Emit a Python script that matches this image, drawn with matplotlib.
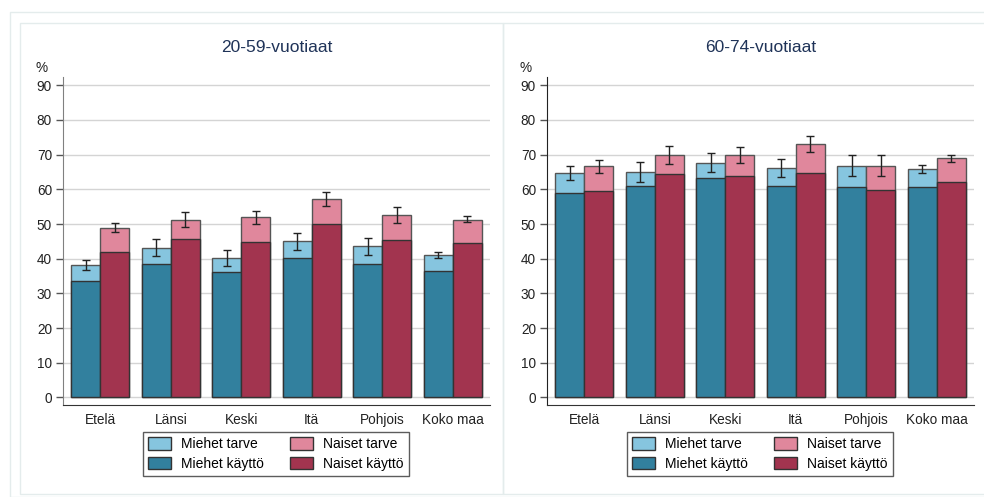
import numpy as np
import matplotlib
matplotlib.use('Agg')
import matplotlib.pyplot as plt
from matplotlib.patches import Rectangle, Patch

plt.rcParams['font.family'] = ['Liberation Sans', 'DejaVu Sans']

regions = ['Etelä', 'Länsi', 'Keski', 'Itä', 'Pohjois', 'Koko maa']
yticks = [0, 10, 20, 30, 40, 50, 60, 70, 80, 90]

# 20-59-vuotiaat
m_tarve_a = [38.2, 43.2, 40.2, 45.0, 43.6, 41.1]
m_kaytto_a = [33.5, 38.6, 36.1, 40.1, 38.6, 36.4]
m_lo_a = [36.6, 40.8, 37.9, 42.5, 41.0, 40.3]
m_hi_a = [39.6, 45.7, 42.5, 47.5, 46.0, 42.0]
n_tarve_a = [48.9, 51.3, 51.9, 57.2, 52.5, 51.3]
n_kaytto_a = [41.8, 45.6, 44.7, 50.0, 45.5, 44.6]
n_lo_a = [47.6, 49.2, 49.9, 55.3, 50.3, 50.7]
n_hi_a = [50.4, 53.5, 53.8, 59.3, 54.8, 52.3]

# 60-74-vuotiaat
m_tarve_b = [64.7, 65.1, 67.7, 66.2, 66.8, 65.9]
m_kaytto_b = [59.0, 61.0, 63.4, 61.1, 60.6, 60.6]
m_lo_b = [62.7, 62.2, 64.9, 63.5, 63.9, 64.7]
m_hi_b = [66.8, 67.9, 70.6, 68.8, 70.0, 67.1]
n_tarve_b = [66.6, 69.8, 69.8, 73.1, 66.8, 68.9]
n_kaytto_b = [59.4, 64.5, 63.9, 64.7, 59.9, 62.0]
n_lo_b = [64.8, 67.3, 67.5, 70.7, 63.8, 67.9]
n_hi_b = [68.4, 72.5, 72.3, 75.5, 69.8, 70.0]

c_mt = '#86c5df'
c_mk = '#32809e'
c_nt = '#e0879c'
c_nk = '#a2344f'

W, H = 984, 497
fig = plt.figure(figsize=(W / 100, H / 100), dpi=100)

# light frames around the panels
border = '#e4ecec'
fig.patches.append(Rectangle((10 / W, 0), 1, 1 - 12 / H, transform=fig.transFigure,
                             fill=False, edgecolor=border, lw=1))
fig.patches.append(Rectangle((20 / W, 1 - 494 / H), 483 / W, 471 / H, transform=fig.transFigure,
                             fill=False, edgecolor=border, lw=1))
fig.patches.append(Rectangle((503 / W, 1 - 494 / H), 1, 471 / H, transform=fig.transFigure,
                             fill=False, edgecolor=border, lw=1))


def panel(left_px, title, mt, mk, mlo, mhi, nt, nk, nlo, nhi, spine_col):
    ax = fig.add_axes([left_px / W, 1 - 405 / H, 427 / W, 328 / H])
    x = np.arange(len(regions))
    bw = 0.41
    xm = x - bw / 2
    xn = x + bw / 2
    ax.bar(xm, mt, bw, color=c_mt, edgecolor='#555555', lw=1, zorder=2)
    ax.bar(xm, mk, bw, color=c_mk, edgecolor='#333333', lw=1, zorder=3)
    ax.bar(xn, nt, bw, color=c_nt, edgecolor='#555555', lw=1, zorder=2)
    ax.bar(xn, nk, bw, color=c_nk, edgecolor='#333333', lw=1, zorder=3)
    mt, mlo, mhi = np.array(mt), np.array(mlo), np.array(mhi)
    nt, nlo, nhi = np.array(nt), np.array(nlo), np.array(nhi)
    ax.errorbar(xm, mt, yerr=[mt - mlo, mhi - mt], fmt='none', ecolor='#222222',
                elinewidth=1, capsize=3, capthick=1, zorder=4)
    ax.errorbar(xn, nt, yerr=[nt - nlo, nhi - nt], fmt='none', ecolor='#222222',
                elinewidth=1, capsize=3, capthick=1, zorder=4)

    ax.set_xlim(-0.53, 5.53)
    ax.set_ylim(-2.2, 92.4)
    ax.set_yticks(yticks)
    ax.set_xticks(x)
    ax.set_xticklabels(regions, fontsize=9.8, color='#222222')
    ax.tick_params(axis='x', length=0, pad=6)
    ax.tick_params(axis='y', length=5, width=1, color='#555555', labelsize=9.8,
                   labelcolor='#222222', pad=3)
    ax.grid(axis='y', color='#d4d4d4', lw=1, zorder=0)
    ax.set_axisbelow(True)
    for s in ['top', 'right']:
        ax.spines[s].set_visible(False)
    ax.spines['left'].set_color(spine_col)
    ax.spines['bottom'].set_color('#333333')

    cx = (left_px + 213.5) / W
    fig.text(cx, 1 - 47 / H, title, ha='center', va='center', fontsize=12.5, color='#1f3358')
    fig.text((left_px - 21) / W, 1 - 68 / H, '%', ha='center', va='center', fontsize=9.8,
             color='#222222')

    handles = [Patch(facecolor=c_mt, edgecolor='#333333', label='Miehet tarve'),
               Patch(facecolor=c_mk, edgecolor='#333333', label='Miehet käyttö'),
               Patch(facecolor=c_nt, edgecolor='#333333', label='Naiset tarve'),
               Patch(facecolor=c_nk, edgecolor='#333333', label='Naiset käyttö')]
    leg = ax.legend(handles=handles, ncol=2, loc='center',
                    bbox_to_anchor=((left_px + 213) / W, 1 - 454 / H),
                    bbox_transform=fig.transFigure, fontsize=10, frameon=True,
                    fancybox=False, edgecolor='#333333', handlelength=1.6,
                    handleheight=1.0, columnspacing=1.9, labelspacing=0.4,
                    borderpad=0.4, handletextpad=0.75)
    leg.get_frame().set_linewidth(1)
    return ax


panel(63, '20-59-vuotiaat', m_tarve_a, m_kaytto_a, m_lo_a, m_hi_a,
      n_tarve_a, n_kaytto_a, n_lo_a, n_hi_a, '#808080')
panel(547, '60-74-vuotiaat', m_tarve_b, m_kaytto_b, m_lo_b, m_hi_b,
      n_tarve_b, n_kaytto_b, n_lo_b, n_hi_b, '#222222')

fig.savefig('out.png', dpi=100)
